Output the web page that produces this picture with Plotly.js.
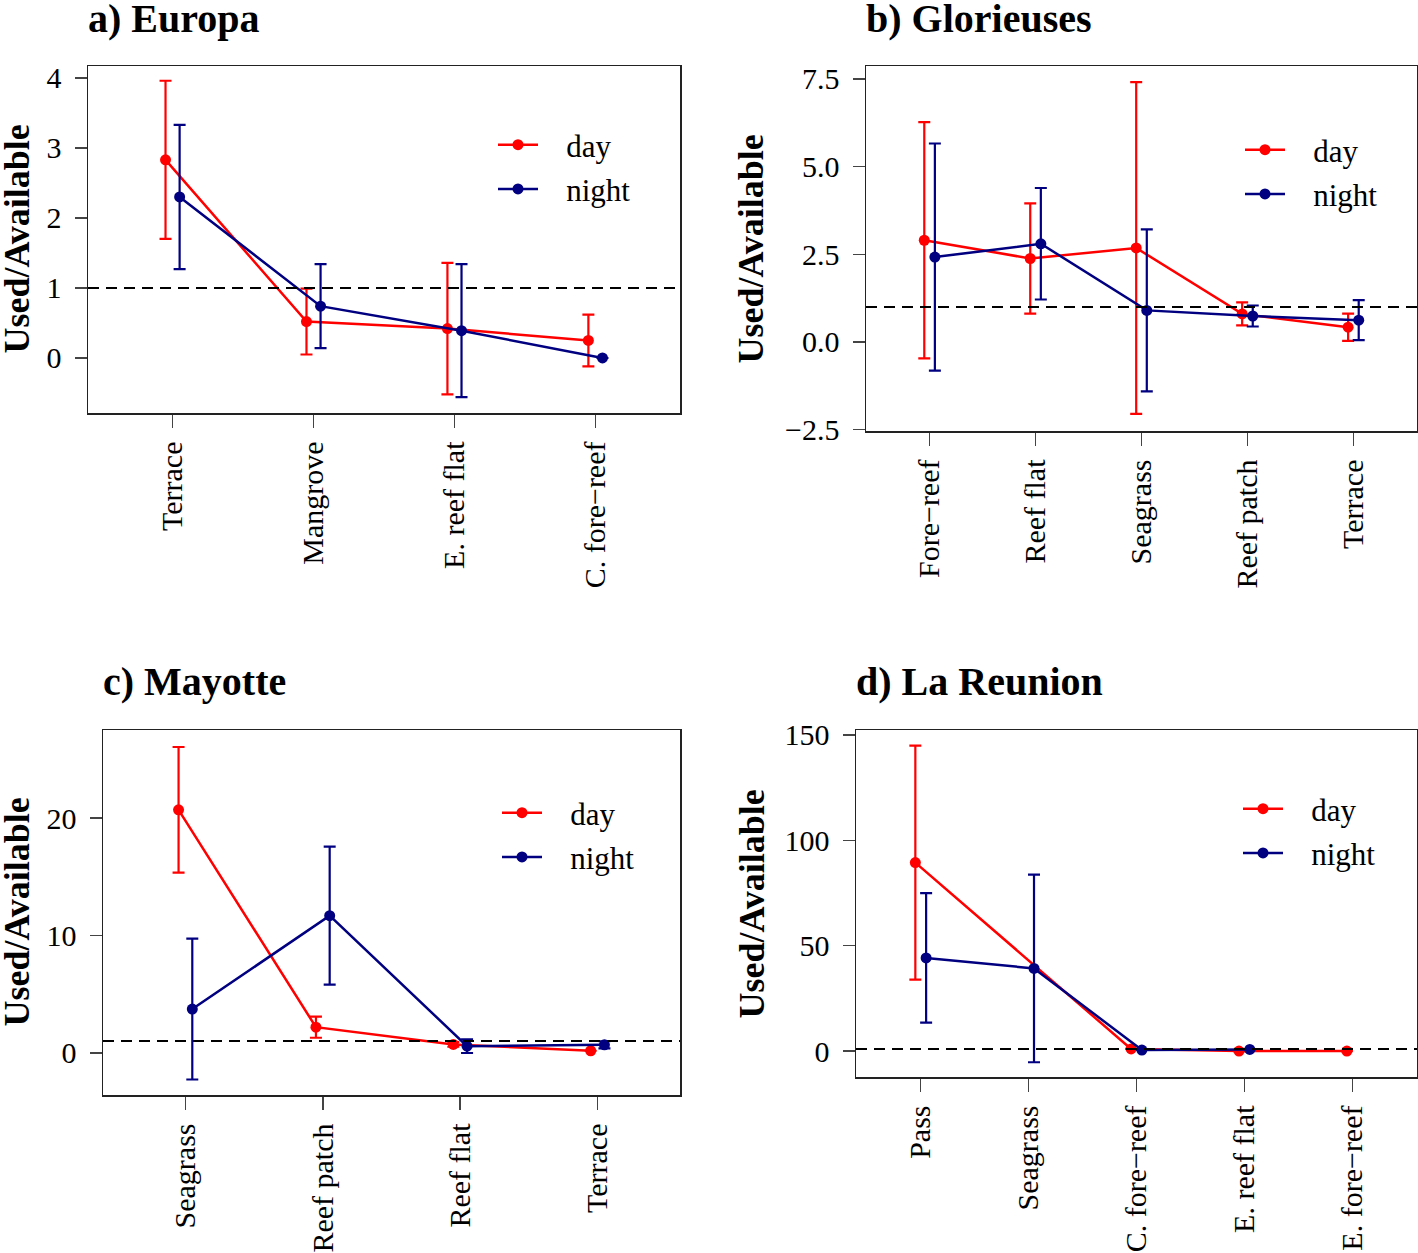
<!DOCTYPE html>
<html>
<head>
<meta charset="utf-8">
<script src="https://cdn.plot.ly/plotly-3.0.1.min.js"></script>
<style>html,body{margin:0;padding:0;background:#fff}</style>
</head>
<body>
<div id="chart" style="width:1418px;height:1253px"></div>
<script>
// ---- Data ----
// a) Europa
const catsA = ['Terrace', 'Mangrove', 'E. reef flat', 'C. fore\u2212reef'];
const dayA = [2.83, 0.52, 0.42, 0.25];
const dayCiA = [1.13, 0.47, 0.94, 0.37];
const nightA = [2.30, 0.74, 0.39, 0.00];
const nightCiA = [1.03, 0.60, 0.95, null];

// b) Glorieuses
const catsB = ['Fore\u2212reef', 'Reef flat', 'Seagrass', 'Reef patch', 'Terrace'];
const dayB = [2.90, 2.38, 2.68, 0.80, 0.42];
const dayCiB = [3.37, 1.57, 4.73, 0.33, 0.39];
const nightB = [2.42, 2.80, 0.90, 0.74, 0.62];
const nightCiB = [3.24, 1.59, 2.31, 0.30, 0.57];

// c) Mayotte
const catsC = ['Seagrass', 'Reef patch', 'Reef flat', 'Terrace'];
const dayC = [20.7, 2.18, 0.71, 0.17];
const dayCiC = [5.35, 0.90, 0.20, null];
const nightC = [3.72, 11.68, 0.56, 0.68];
const nightCiC = [6.00, 5.88, 0.58, 0.30];

// d) La Reunion
const catsD = ['Pass', 'Seagrass', 'C. fore\u2212reef', 'E. reef flat', 'E. fore\u2212reef'];
const dayD = [89.4, null, 1.0, 0.0, 0.0];
const dayCiD = [55.5, null, null, null, null];
const nightD = [44.2, 39.2, 0.5, 0.8, null];
const nightCiD = [30.7, 44.5, null, null, null];

const titles = ['a) Europa', 'b) Glorieuses', 'c) Mayotte', 'd) La Reunion'];
const seriesNames = ['day', 'night'];
const yTitle = 'Used/Available';
const refLine = 1;

// ---- Styling ----
const W = 1418, H = 1253;
const FONT = 'Liberation Serif, Times New Roman, serif';
const RED = '#FF0000', NAVY = '#000080';
const OFF = 0.05;
const GAP = '\u00a0\u00a0\u00a0';

// plot boxes in pixels: [left, top, right, bottom]
const boxes = [
  [88, 66, 680, 413],
  [866, 66, 1417, 431],
  [103, 730, 680, 1095],
  [856, 730, 1417, 1077]
];
const yRanges = [[-0.786, 4.171], [-2.54, 7.87], [-3.6, 27.5], [-12.3, 152.3]];
const yTicks = [[0, 1, 2, 3, 4], [-2.5, 0, 2.5, 5, 7.5], [0, 10, 20], [0, 50, 100, 150]];
const yFormats = ['', '.1f', '', ''];
const legendPos = [[493, 118], [1240, 123], [497, 786], [1238, 782]];
const yTitleX = [16, 751, 16, 751];

const panels = [
  [catsA, dayA, dayCiA, nightA, nightCiA],
  [catsB, dayB, dayCiB, nightB, nightCiB],
  [catsC, dayC, dayCiC, nightC, nightCiC],
  [catsD, dayD, dayCiD, nightD, nightCiD]
];

const traces = [];
const layout = {
  width: W, height: H, autosize: false,
  margin: {l: 0, r: 0, t: 0, b: 0},
  paper_bgcolor: '#fff', plot_bgcolor: '#fff',
  font: {family: FONT, size: 28, color: '#000'},
  showlegend: true,
  shapes: [], annotations: []
};

panels.forEach((p, k) => {
  const [cats, day, dayCi, night, nightCi] = p;
  const n = k + 1;
  const sfx = n === 1 ? '' : String(n);
  const xa = 'x' + sfx, ya = 'y' + sfx;
  const leg = 'legend' + sfx;
  const idx = cats.map((c, i) => i + 1);

  const mk = (name, vals, ci, color, off) => ({
    type: 'scatter', mode: 'lines+markers', name: GAP + name,
    x: idx.map(v => v + off), y: vals,
    xaxis: xa, yaxis: ya, legend: leg, legendgroup: name + n,
    connectgaps: true, cliponaxis: false,
    line: {color: color, width: 2.5},
    marker: {color: color, size: 11},
    error_y: {type: 'data', array: ci, symmetric: true, visible: true,
              color: color, thickness: 2.2, width: 6}
  });
  traces.push(mk(seriesNames[0], day, dayCi, RED, -OFF));
  traces.push(mk(seriesNames[1], night, nightCi, NAVY, OFF));

  const b = boxes[k];
  const xd = [b[0] / W, b[2] / W];
  const yd = [1 - b[3] / H, 1 - b[1] / H];
  layout['xaxis' + sfx] = {
    domain: xd, anchor: ya, range: [0.4, cats.length + 0.6],
    tickmode: 'array', tickvals: idx, ticktext: cats, tickangle: -90,
    showline: true, mirror: true, linecolor: '#222', linewidth: 1.5,
    ticks: 'outside', ticklen: 13, tickwidth: 1.5, tickcolor: '#444',
    ticklabelstandoff: 2,
    showgrid: false, zeroline: false,
    tickfont: {family: FONT, size: 30, color: '#000'}
  };
  layout['yaxis' + sfx] = {
    domain: yd, anchor: xa, range: yRanges[k],
    tickmode: 'array', tickvals: yTicks[k], tickformat: yFormats[k],
    showline: true, mirror: true, linecolor: '#222', linewidth: 1.5,
    ticks: 'outside', ticklen: 12, tickwidth: 1.5, tickcolor: '#444',
    ticklabelstandoff: 7,
    showgrid: false, zeroline: false,
    tickfont: {family: FONT, size: 30, color: '#000'}
  };
  layout[leg] = {
    x: legendPos[k][0] / W, y: 1 - legendPos[k][1] / H,
    xanchor: 'left', yanchor: 'top', xref: 'paper', yref: 'paper',
    bgcolor: 'rgba(0,0,0,0)', borderwidth: 0,
    font: {family: FONT, size: 31, color: '#000'},
    tracegroupgap: 1, itemwidth: 40, traceorder: 'grouped'
  };
  layout.shapes.push({
    type: 'line', xref: xa + ' domain', yref: ya,
    x0: 0, x1: 1, y0: refLine, y1: refLine,
    line: {color: '#000', width: 2, dash: '11px,7px'}
  });
  layout.annotations.push({
    text: '<b>' + titles[k] + '</b>', xref: 'paper', yref: 'paper',
    x: (b[0] - 2) / W, y: 1 - (b[1] - 48) / H, xanchor: 'left', yanchor: 'middle',
    showarrow: false, font: {family: FONT, size: 40, color: '#000'}
  });
  layout.annotations.push({
    text: '<b>' + yTitle + '</b>', xref: 'paper', yref: 'paper',
    x: yTitleX[k] / W, y: 1 - ((b[1] + b[3]) / 2) / H,
    xanchor: 'center', yanchor: 'middle', textangle: -90,
    showarrow: false, font: {family: FONT, size: 36, color: '#000'}
  });
});

Plotly.newPlot('chart', traces, layout, {staticPlot: true, displayModeBar: false});
</script>
</body>
</html>
